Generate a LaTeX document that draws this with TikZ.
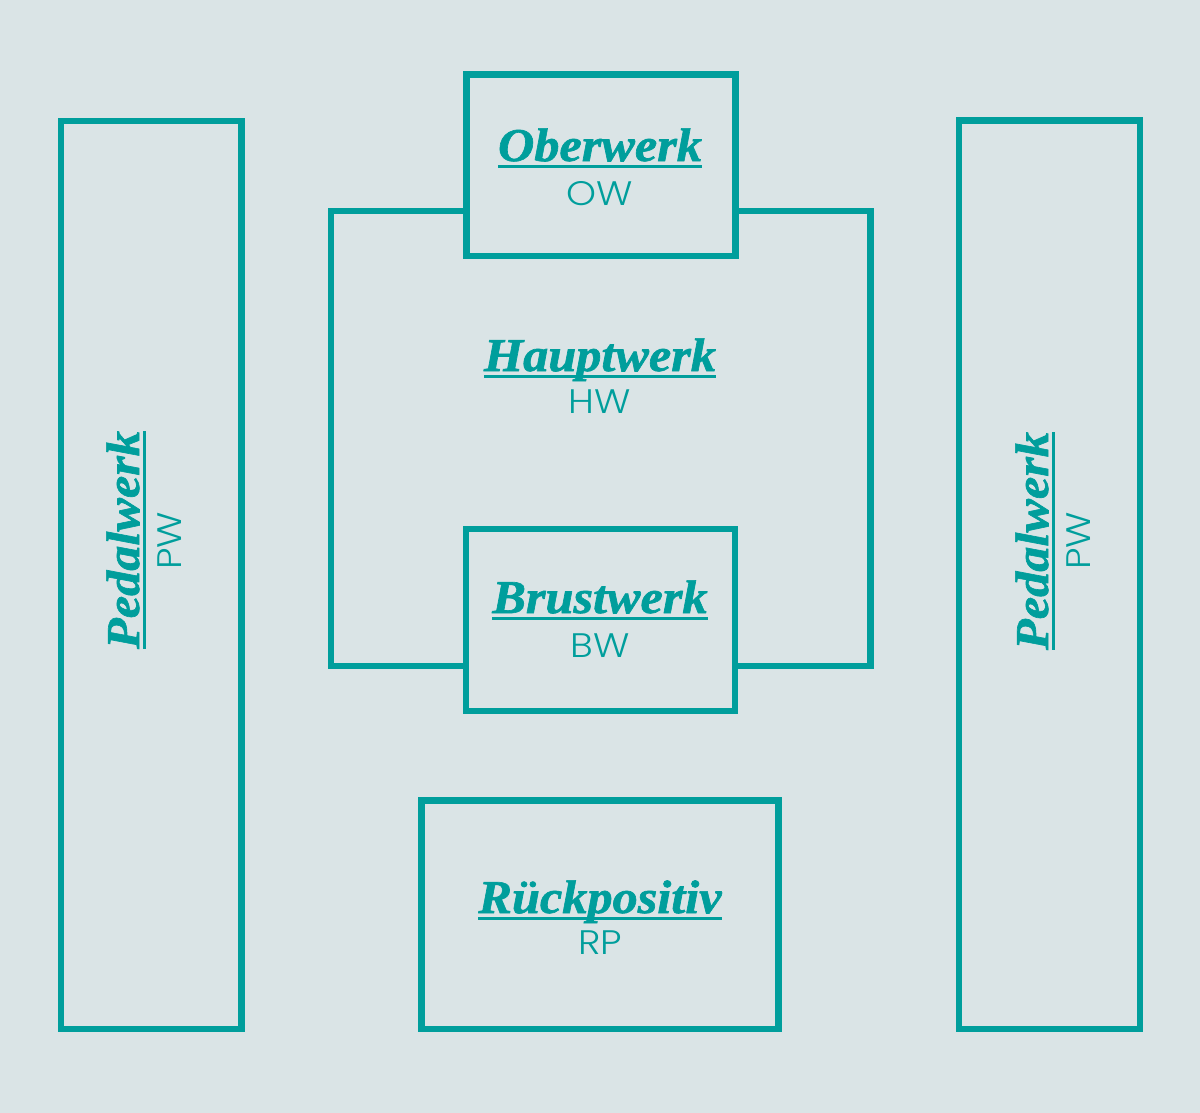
\documentclass[tikz,border=0pt]{standalone}
\usepackage{fontspec}
\usepackage{xcolor}
\usepackage{tikz}
\usetikzlibrary{positioning}
\setmainfont{Liberation Serif}
\newfontfamily\namefont{Liberation Serif}[FakeStretch=1.07, FakeBold=1.4]
\newfontfamily\abbrfont{Poppins Light}[FakeStretch=1.12]
\definecolor{werkteal}{HTML}{009E9C}
\definecolor{werkbg}{HTML}{DAE4E6}
% name with a low underline
\newcommand{\werkname}[1]{\setbox0\hbox{#1}\rlap{\rule[-7pt]{\wd0}{2.6pt}}\box0}

\begin{document}
\begin{tikzpicture}[x=1pt, y=-1pt,
    werkbox/.style={rectangle, draw=werkteal, line width=6.5pt, fill=werkbg, inner sep=0pt},
    werkname/.style={text=werkteal, inner sep=0pt, anchor=base, font=\namefont\bfseries\itshape\fontsize{47}{51}\selectfont},
    werkabbr/.style={text=werkteal, inner sep=0pt, anchor=base, font=\abbrfont\fontsize{34}{38}\selectfont}
]
    \fill[werkbg] (0,0) rectangle (1200,1113);

    % boxes
    \node[werkbox, minimum width=180.5, minimum height=908] (pwl) at (151.3,575) {};
    \node[werkbox, minimum width=181, minimum height=908.5] (pwr) at (1049.5,574.8) {};
    \node[werkbox, minimum width=539.5, minimum height=455] (hw) at (600.5,438.5) {};
    \node[werkbox, minimum width=269.4, minimum height=181.3] (ow) at (601,165.3) {};
    \node[werkbox, minimum width=269, minimum height=182] (bw) at (600.5,620) {};
    \node[werkbox, minimum width=356.6, minimum height=228.5] (rp) at (600,914.8) {};

    % labels
    \node[werkname] (owname) at (600,161) {\werkname{Oberwerk}};
    \node[werkabbr] (owabbr) at (600,205) {OW};
    \node[werkname] (hwname) at (600,371) {\werkname{Hauptwerk}};
    \node[werkabbr] (hwabbr) at (600,413) {HW};
    \node[werkname] (bwname) at (600,613) {\werkname{Brustwerk}};
    \node[werkabbr] (bwabbr) at (600,657) {BW};
    \node[werkname] (rpname) at (600,913) {\werkname{Rückpositiv}};
    \node[werkabbr] (rpabbr) at (600,954) {RP};
    \node[werkname, rotate=90] (pwlname) at (139,540) {\werkname{Pedalwerk}};
    \node[werkabbr, rotate=90] (pwlabbr) at (181,541) {PW};
    \node[werkname, rotate=90] (pwrname) at (1048,541) {\werkname{Pedalwerk}};
    \node[werkabbr, rotate=90] (pwrabbr) at (1090,541) {PW};
\end{tikzpicture}
\end{document}
